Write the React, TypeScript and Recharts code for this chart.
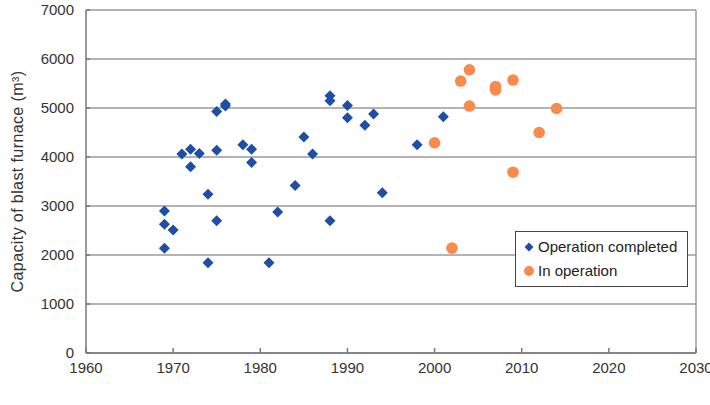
import React from "react";
import {
  ScatterChart,
  Scatter,
  XAxis,
  YAxis,
  CartesianGrid,
  ReferenceLine,
} from "recharts";

// Blast furnaces that have finished operating: [blow-in year, capacity m³]
const completedYears = [
  1969, 1969, 1969, 1970, 1971, 1972, 1972, 1973, 1974, 1974, 1975, 1975, 1975, 1976, 1976,
  1978, 1979, 1979, 1981, 1982, 1984, 1985, 1986, 1988, 1988, 1988, 1990, 1990, 1992, 1993,
  1994, 1998, 2001,
];
const completedCapacity = [
  2900, 2630, 2140, 2510, 4060, 4160, 3800, 4070, 3240, 1840, 4140, 4930, 2700, 5040, 5080,
  4250, 4160, 3890, 1840, 2880, 3420, 4410, 4060, 5250, 5150, 2700, 5050, 4800, 4650, 4880,
  3270, 4250, 4820,
];

// Blast furnaces still in operation
const activeYears = [2000, 2002, 2003, 2004, 2004, 2007, 2007, 2009, 2009, 2012, 2014];
const activeCapacity = [4290, 2140, 5550, 5780, 5040, 5440, 5370, 5570, 3690, 4500, 4990];

const yearTicks = [1960, 1970, 1980, 1990, 2000, 2010, 2020, 2030];
const capacityTicks = [0, 1000, 2000, 3000, 4000, 5000, 6000, 7000];

const BLUE = "#1f4ea6";
const ORANGE = "#f68b4d";
const FONT = "'Liberation Sans', Arial, sans-serif";

const completed = completedYears.map((year, i) => ({ year, capacity: completedCapacity[i] }));
const active = activeYears.map((year, i) => ({ year, capacity: activeCapacity[i] }));

const Diamond = (props: any) => {
  const { cx, cy } = props;
  const r = 5.5;
  return (
    <polygon
      points={`${cx},${cy - r} ${cx + r},${cy} ${cx},${cy + r} ${cx - r},${cy}`}
      fill={BLUE}
    />
  );
};

const Dot = (props: any) => <circle cx={props.cx} cy={props.cy} r={5.8} fill={ORANGE} />;

// legend drawn as an overlay so it does not shrink the plot area
const LegendBox = () => (
  <div
    style={{
      position: "absolute",
      left: 515,
      top: 231,
      width: 173,
      boxSizing: "border-box",
      border: "1.5px solid #444",
      background: "#fff",
      padding: "3px 6px 3px 7px",
      fontFamily: FONT,
      fontSize: 15,
      color: "#222",
      lineHeight: "24px",
      whiteSpace: "nowrap",
    }}
  >
    <div style={{ display: "flex", alignItems: "center" }}>
      <svg width={12} height={12} style={{ marginRight: 3 }}>
        <polygon points="6,1.5 10.5,6 6,10.5 1.5,6" fill={BLUE} />
      </svg>
      Operation completed
    </div>
    <div style={{ display: "flex", alignItems: "center" }}>
      <svg width={12} height={12} style={{ marginRight: 3 }}>
        <circle cx={6} cy={6} r={5} fill={ORANGE} />
      </svg>
      In operation
    </div>
  </div>
);

export default function App() {
  return (
    <div style={{ position: "absolute", left: 0, top: 0, width: 710, height: 405, background: "#fff" }}>
      <ScatterChart width={710} height={405} margin={{ top: 10, right: 14, left: 0, bottom: 0 }}>
        <CartesianGrid horizontal vertical={false} stroke="#9a9a9a" strokeWidth={1.5} />
        <XAxis
          type="number"
          dataKey="year"
          domain={[1960, 2030]}
          ticks={yearTicks}
          interval={0}
          height={52}
          stroke="#777"
          strokeWidth={1.5}
          tickSize={-5}
          tickMargin={14}
          tick={{ fill: "#333", fontSize: 15, fontFamily: FONT }}
        />
        <YAxis
          type="number"
          dataKey="capacity"
          domain={[0, 7000]}
          ticks={capacityTicks}
          interval={0}
          width={86}
          stroke="#777"
          strokeWidth={1.5}
          tickSize={-4}
          tickMargin={16}
          tick={{ fill: "#333", fontSize: 15, fontFamily: FONT }}
          label={{
            value: "Capacity of blast furnace (m³)",
            angle: -90,
            position: "insideLeft",
            offset: 17,
            style: { textAnchor: "middle", fill: "#333", fontSize: 16, letterSpacing: 0.4, fontFamily: FONT },
          }}
        />
        <ReferenceLine x={2030} stroke="#9a9a9a" strokeWidth={1.5} />
        <Scatter
          name="Operation completed"
          data={completed}
          shape={<Diamond />}
          isAnimationActive={false}
        />
        <Scatter name="In operation" data={active} shape={<Dot />} isAnimationActive={false} />
      </ScatterChart>
      <LegendBox />
    </div>
  );
}
